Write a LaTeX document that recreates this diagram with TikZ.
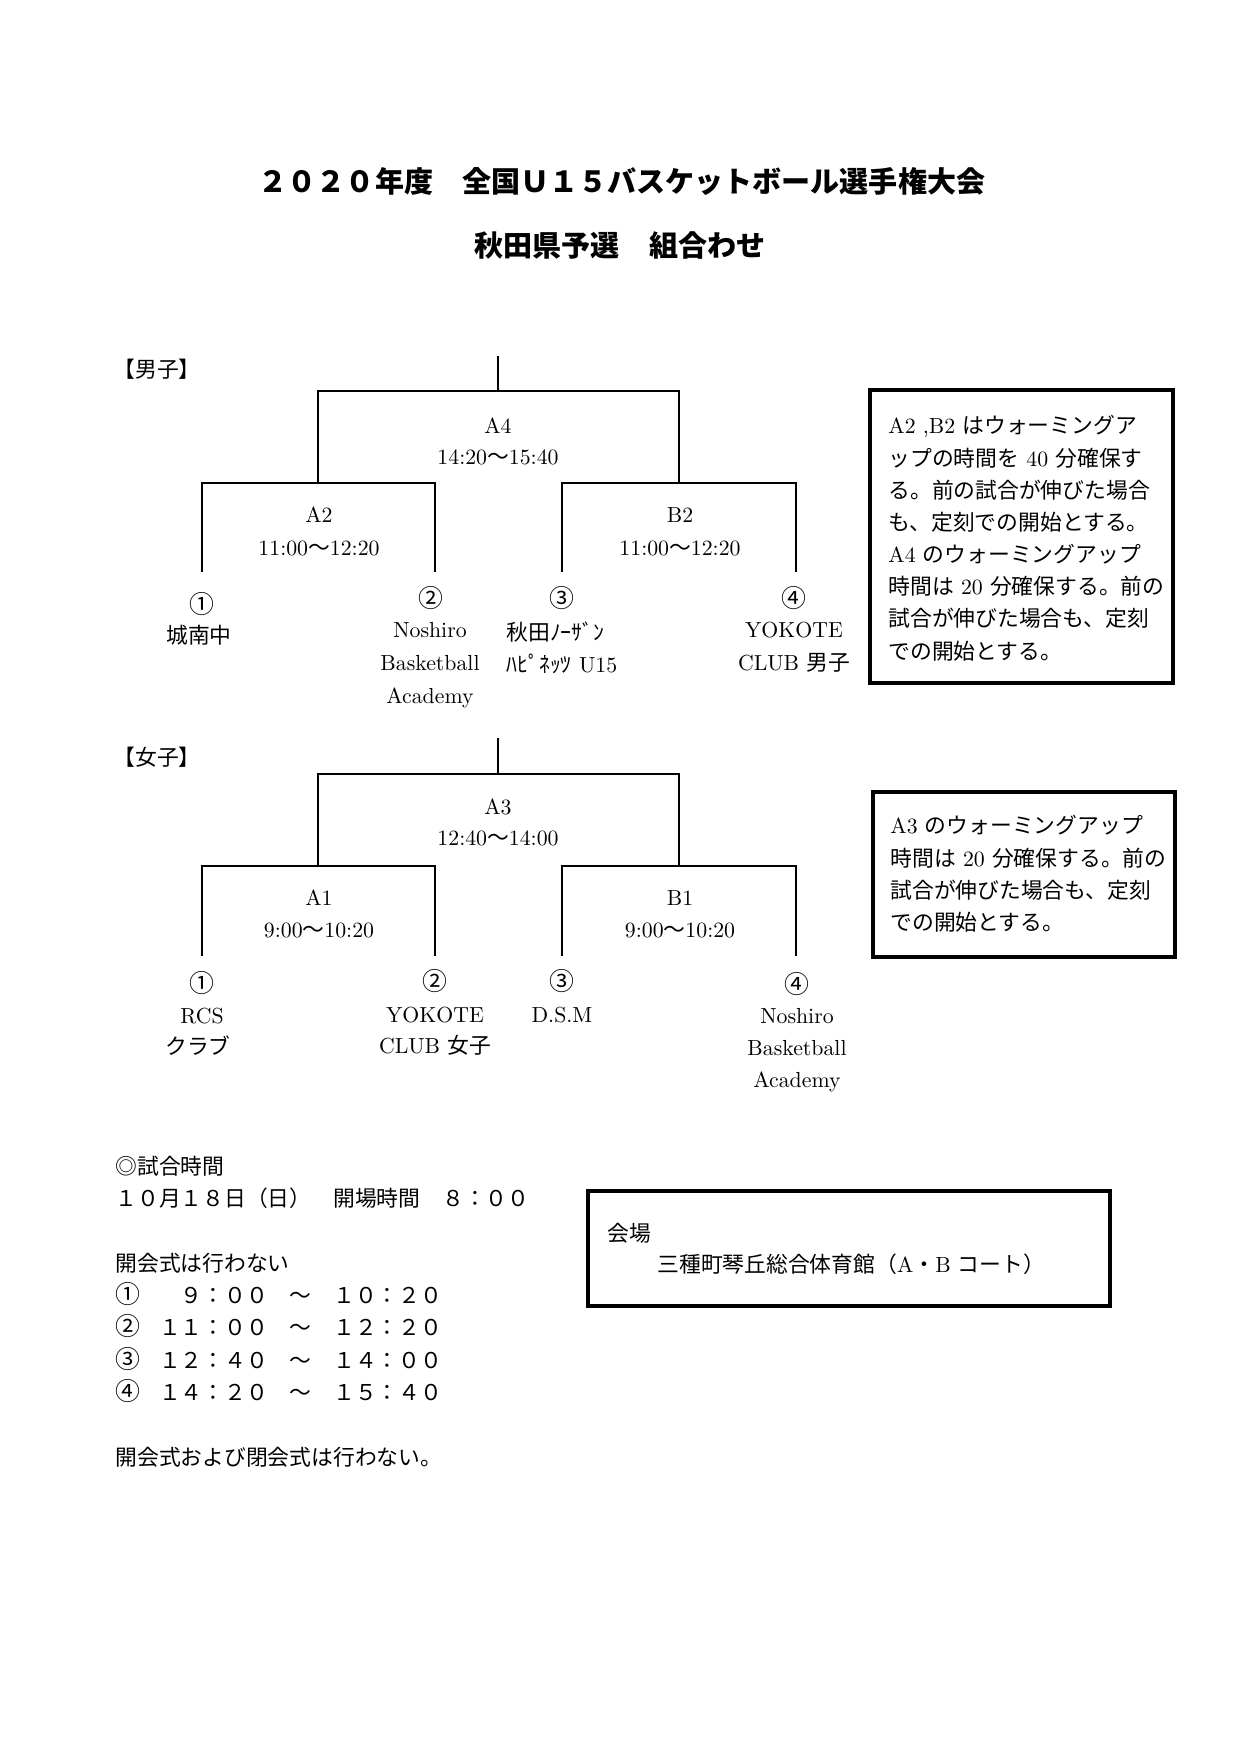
\documentclass[tikz,border=0pt]{standalone}
\usepackage{fontspec}
\newfontfamily\jafont{Noto Sans CJK JP}
\newcommand{\ja}[1]{{\jafont #1}}
\newcommand{\cnum}[1]{\makebox[10.5pt][l]{\jafont\fontsize{12}{15.6}\selectfont #1}}
\tikzset{
  bracket/.style={line width=0.75pt},
  notebox/.style={line width=1.9pt},
  lbl/.style={anchor=base, font=\fontsize{10.5}{15.5}\selectfont},
  lbll/.style={anchor=base west, font=\fontsize{10.5}{15.5}\selectfont},
  seed/.style={anchor=base, font=\jafont\fontsize{12}{15.5}\selectfont},
  notetext/.style={anchor=north west, align=left, font=\fontsize{10.5}{15.5}\selectfont},
  ttl/.style={anchor=base, font=\jafont\bfseries\fontsize{14}{20}\selectfont},
}
\begin{document}
\begin{tikzpicture}[x=0.4818pt, y=-0.4818pt]
\tikzstyle{every node}+=[inner sep=0pt]
\useasboundingbox (0,0) rectangle (1241,1755);
\node [ttl] (title1) at (622,193) {２０２０年度　全国Ｕ１５バスケットボール選手権大会};
\node [ttl] (title2) at (620,257) {秋田県予選　組合わせ};
% boys
\node [lbll] (boys) at (113,377) {\ja{【男子】}};
\coordinate (btop) at (498,356);
\coordinate (ba4) at (498,391);
\coordinate (ba2) at (318,483);
\coordinate (bb2) at (679,483);
\coordinate (bt1) at (202,572);
\coordinate (bt2) at (435,572);
\coordinate (bt3) at (562,572);
\coordinate (bt4) at (796,572);
\draw [bracket] (btop) -- (ba4);
\draw [bracket] (ba2) |- (ba4) -| (bb2);
\draw [bracket] (bt1) |- (ba2) -| (bt2);
\draw [bracket] (bt3) |- (bb2) -| (bt4);
\node [lbl] (ba4name) at (498,433) {A4};
\node [lbl] (ba4time) at (498,464) {14:20\ja{～}15:40};
\node [lbl] (ba2name) at (319,522) {A2};
\node [lbl] (ba2time) at (319,555) {11:00\ja{～}12:20};
\node [lbl] (bb2name) at (680,522) {B2};
\node [lbl] (bb2time) at (680,555) {11:00\ja{～}12:20};
\node [seed] (bn1) at (202,613) {①};
\node [seed] (bn2) at (431,607) {②};
\node [seed] (bn3) at (562,607) {③};
\node [seed] (bn4) at (794,607) {④};
\node [lbl] (bteam1) at (199,643) {\ja{城南中}};
\node [lbl] (bteam2a) at (430,637) {Noshiro};
\node [lbl] (bteam2b) at (430,670) {Basketball};
\node [lbl] (bteam2c) at (430,703) {Academy};
\node [lbll] (bteam3a) at (506,640) {\ja{秋田ﾉｰｻﾞﾝ}};
\node [lbll] (bteam3b) at (506,672) {\ja{ﾊﾋﾟﾈｯﾂ} U15};
\node [lbl] (bteam4a) at (794,637) {YOKOTE};
\node [lbl] (bteam4b) at (794,670) {CLUB \ja{男子}};
\draw [notebox] (870,390) rectangle (1173,683);
\node [notetext] (bnote) at (888,411) {\strut A2 ,B2 \ja{はウォーミングア}\\
\ja{ップの時間を} 40 \ja{分確保す}\\
\ja{る。前の試合が伸びた場合}\\
\ja{も、定刻での開始とする。}\\
A4 \ja{のウォーミングアップ}\\
\ja{時間は} 20 \ja{分確保する。前の}\\
\ja{試合が伸びた場合も、定刻}\\
\ja{での開始とする。}};
% girls
\node [lbll] (girls) at (113,765) {\ja{【女子】}};
\coordinate (gtop) at (498,738);
\coordinate (ga3) at (498,774);
\coordinate (ga1) at (318,866);
\coordinate (gb1) at (679,866);
\coordinate (gt1) at (202,956);
\coordinate (gt2) at (435,956);
\coordinate (gt3) at (562,956);
\coordinate (gt4) at (796,956);
\draw [bracket] (gtop) -- (ga3);
\draw [bracket] (ga1) |- (ga3) -| (gb1);
\draw [bracket] (gt1) |- (ga1) -| (gt2);
\draw [bracket] (gt3) |- (gb1) -| (gt4);
\node [lbl] (ga3name) at (498,814) {A3};
\node [lbl] (ga3time) at (498,845) {12:40\ja{～}14:00};
\node [lbl] (ga1name) at (319,905) {A1};
\node [lbl] (ga1time) at (319,937) {9:00\ja{～}10:20};
\node [lbl] (gb1name) at (680,905) {B1};
\node [lbl] (gb1time) at (680,937) {9:00\ja{～}10:20};
\node [seed] (gn1) at (202,992) {①};
\node [seed] (gn2) at (435,990) {②};
\node [seed] (gn3) at (562,990) {③};
\node [seed] (gn4) at (797,993) {④};
\node [lbl] (gteam1a) at (202,1023) {RCS};
\node [lbl] (gteam1b) at (198,1054) {\ja{クラブ}};
\node [lbl] (gteam2a) at (435,1022) {YOKOTE};
\node [lbl] (gteam2b) at (435,1053) {CLUB \ja{女子}};
\node [lbl] (gteam3) at (562,1022) {D.S.M};
\node [lbl] (gteam4a) at (797,1023) {Noshiro};
\node [lbl] (gteam4b) at (797,1055) {Basketball};
\node [lbl] (gteam4c) at (797,1087) {Academy};
\draw [notebox] (873,792) rectangle (1175,957);
\node [notetext] (gnote) at (890,811) {\strut A3 \ja{のウォーミングアップ}\\
\ja{時間は} 20 \ja{分確保する。前の}\\
\ja{試合が伸びた場合も、定刻}\\
\ja{での開始とする。}};
% schedule
\node [notetext, font=\jafont\fontsize{10.5}{15.6}\selectfont] (times) at (115,1151) {\strut ◎試合時間\\
１０月１８日（日）　開場時間　８：００\\
\mbox{}\\
開会式は行わない\\
\cnum{①}　　９：００　～　１０：２０\\
\cnum{②}　１１：００　～　１２：２０\\
\cnum{③}　１２：４０　～　１４：００\\
\cnum{④}　１４：２０　～　１５：４０\\
\mbox{}\\
開会式および閉会式は行わない。};
\draw [notebox] (588,1191) rectangle (1110,1306);
\node [lbll] (venue) at (607,1241) {\ja{会場}};
\node [lbll] (hall) at (657,1272) {\ja{三種町琴丘総合体育館（}A\ja{・}B \ja{コート）}};
\end{tikzpicture}
\end{document}
